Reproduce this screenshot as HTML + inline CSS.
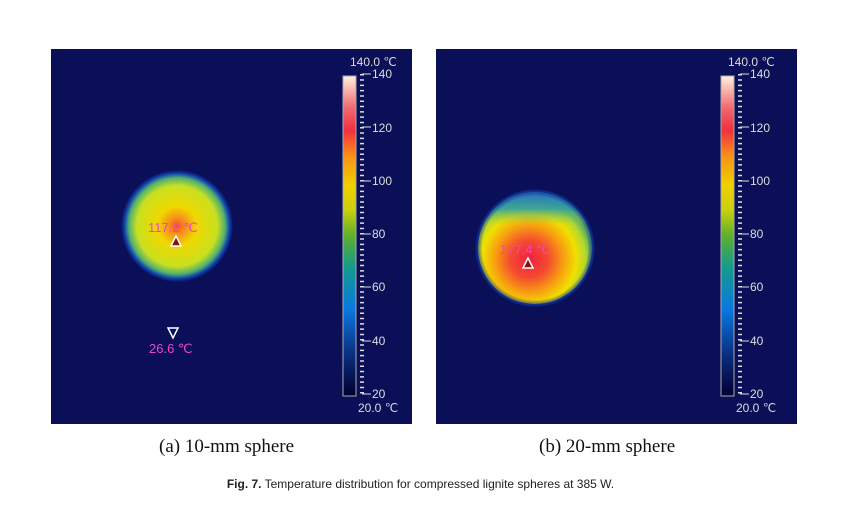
<!DOCTYPE html>
<html><head><style>
body{margin:0;background:#fff;width:841px;height:505px;overflow:hidden;font-family:"Liberation Sans",sans-serif}
svg{position:absolute;left:0;top:0}
.cap{position:absolute;font-family:"Liberation Serif",serif;font-size:19px;color:#111}
.fig{position:absolute;top:477px;left:0;width:841px;text-align:center;font-size:12px;color:#222}
</style></head><body>
<svg width="841" height="505" viewBox="0 0 841 505">
<defs>
<linearGradient id="cb" x1="0" y1="1" x2="0" y2="0">
<stop offset="0" stop-color="#000030"/><stop offset="0.12" stop-color="#0a2a7a"/>
<stop offset="0.27" stop-color="#0a78e0"/><stop offset="0.4" stop-color="#139a90"/>
<stop offset="0.5" stop-color="#5cb02c"/><stop offset="0.58" stop-color="#c8d010"/>
<stop offset="0.66" stop-color="#f0d000"/><stop offset="0.75" stop-color="#f89018"/>
<stop offset="0.83" stop-color="#f03040"/><stop offset="0.9" stop-color="#f06870"/>
<stop offset="1" stop-color="#fff0e0"/></linearGradient>
<radialGradient id="s1" cx="0.5" cy="0.5" r="0.5">
<stop offset="0" stop-color="#f4502a"/><stop offset="0.15" stop-color="#f8901c"/>
<stop offset="0.35" stop-color="#f0d800"/><stop offset="0.72" stop-color="#c8e020"/>
<stop offset="0.86" stop-color="#50b070"/><stop offset="0.94" stop-color="#1040b0"/>
<stop offset="1" stop-color="#0a105a"/></radialGradient>
<radialGradient id="s2" cx="0.45" cy="0.6" r="0.55">
<stop offset="0" stop-color="#f02040"/><stop offset="0.3" stop-color="#f44a30"/>
<stop offset="0.55" stop-color="#f8a010"/><stop offset="0.75" stop-color="#f0e000"/>
<stop offset="0.9" stop-color="#b0d830"/><stop offset="1" stop-color="#60b060"/></radialGradient>
<linearGradient id="cap" x1="0" y1="0" x2="0" y2="1">
<stop offset="0" stop-color="#2a70c0" stop-opacity="1"/><stop offset="0.15" stop-color="#30a0a0" stop-opacity="0.9"/>
<stop offset="0.3" stop-color="#a0d040" stop-opacity="0"/><stop offset="1" stop-color="#a0d040" stop-opacity="0"/></linearGradient>
<radialGradient id="edge" cx="0.5" cy="0.5" r="0.5">
<stop offset="0.88" stop-color="#0a105a" stop-opacity="0"/><stop offset="0.96" stop-color="#1040b0" stop-opacity="0.7"/><stop offset="1" stop-color="#0a105a" stop-opacity="1"/></radialGradient>
</defs>
<rect x="51" y="49" width="361" height="375" fill="#0a0f58"/>
<rect x="436" y="49" width="361" height="375" fill="#0a0f58"/>
<circle cx="177" cy="226" r="56" fill="url(#s1)"/>
<ellipse cx="535" cy="248" rx="57" ry="56" fill="url(#s2)"/>
<ellipse cx="535" cy="248" rx="57" ry="56" fill="url(#cap)"/>
<ellipse cx="535" cy="248" rx="60" ry="59" fill="url(#edge)"/>
<g font-size="13" fill="#ee44cc">
<text x="148" y="232">117.2 ℃</text><polygon points="176,236 171,246 181,246" fill="#8a1010" stroke="#fff" stroke-width="1.5"/>
<text x="500" y="254">177.4 ℃</text><polygon points="528,258 523,268 533,268" fill="#8a1010" stroke="#fff" stroke-width="1.5"/>
<polygon points="168,328 178,328 173,338" fill="none" stroke="#fff" stroke-width="1.5"/>
<text x="149" y="353">26.6 ℃</text></g>
<g id="bar">
<rect x="343" y="76" width="13" height="320" fill="url(#cb)" stroke="#aaa" stroke-width="1"/>
<g stroke="#ddd" stroke-width="1">
<line x1="362" y1="74" x2="362" y2="394" stroke-dasharray="1.5 3.8" stroke-width="4"/>
<line x1="362" y1="74" x2="371" y2="74"/><line x1="362" y1="127" x2="371" y2="127"/><line x1="362" y1="181" x2="371" y2="181"/><line x1="362" y1="234" x2="371" y2="234"/><line x1="362" y1="287" x2="371" y2="287"/><line x1="362" y1="341" x2="371" y2="341"/><line x1="362" y1="394" x2="371" y2="394"/></g>
<g fill="#ddd" font-size="12">
<text x="350" y="66">140.0 ℃</text><text x="372" y="78">140</text><text x="372" y="132">120</text><text x="372" y="185">100</text><text x="372" y="238">80</text><text x="372" y="291">60</text><text x="372" y="345">40</text><text x="372" y="398">20</text><text x="358" y="412">20.0 ℃</text></g>
</g>
<use href="#bar" transform="translate(378,0)"/>
</svg>
<div class="cap" style="left:159px;top:436px">(a) 10-mm sphere</div>
<div class="cap" style="left:539px;top:436px">(b) 20-mm sphere</div>
<div class="fig"><b>Fig. 7.</b> Temperature distribution for compressed lignite spheres at 385 W.</div>
</body></html>
